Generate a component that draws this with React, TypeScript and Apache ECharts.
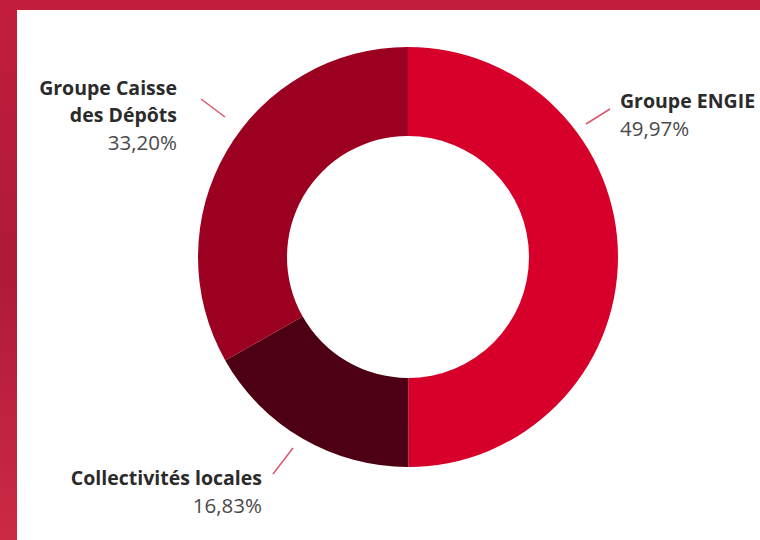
import React, { useEffect, useRef } from "react";
import * as echarts from "echarts";

const categories = ["Groupe ENGIE", "Collectivités locales", "Groupe Caisse\ndes Dépôts"];
const values = [49.97, 16.83, 33.2];
const valueLabels = ["49,97%", "16,83%", "33,20%"];
const colors = ["#d6002b", "#4d0013", "#9c0020"];

export default function App() {
  const ref = useRef<HTMLDivElement>(null);
  useEffect(() => {
    document.body.style.margin = "0";
    const chart = echarts.init(ref.current!, null, { renderer: "svg" });
    const labelPos = [
      { x: 620, y: 87, align: "left", line: [[586, 124], [610, 109]] },
      { x: 262, y: 464, align: "right", line: [[273, 474], [293, 448]] },
      { x: 177, y: 74, align: "right", line: [[201, 99], [225, 117]] },
    ];
    chart.setOption({
      animation: false,
      backgroundColor: {
        type: "linear", x: 0, y: 0, x2: 0, y2: 1,
        colorStops: [
          { offset: 0, color: "#c21e3b" },
          { offset: 0.5, color: "#ae1a3a" },
          { offset: 1, color: "#cc2a44" },
        ],
      },
      graphic: [
        { type: "rect", shape: { x: 17, y: 10, width: 760, height: 540 }, style: { fill: "#ffffff" }, z: -10 },
        ...labelPos.map((p) => ({
          type: "line",
          shape: { x1: p.line[0][0], y1: p.line[0][1], x2: p.line[1][0], y2: p.line[1][1] },
          style: { stroke: "#d9586e", lineWidth: 1.5 },
        })),
      ],
      series: [
        {
          type: "pie",
          center: [408, 257],
          radius: [121, 210],
          startAngle: 90,
          clockwise: true,
          avoidLabelOverlap: false,
          data: categories.map((name, i) => ({
            name,
            value: values[i],
            itemStyle: { color: colors[i] },
            label: { align: labelPos[i].align },
          })),
          label: {
            show: true,
            formatter: (p: any) =>
              p.name.split("\n").map((s: string) => `{n|${s}}`).join("\n") + `\n{v|${valueLabels[p.dataIndex]}}`,
            rich: {
              n: { fontFamily: "Open Sans", fontWeight: "bold", fontSize: 19.5, color: "#2b2b2b", lineHeight: 27 },
              v: { fontFamily: "Open Sans", fontSize: 20.5, color: "#4a4a4a", lineHeight: 27 },
            },
          },
          labelLine: { show: false },
          labelLayout: (params: any) => {
            const p = labelPos[params.dataIndex];
            return { x: p.x, y: p.y, align: p.align, verticalAlign: "top" };
          },
          emphasis: { disabled: true },
        },
      ],
    });
    return () => chart.dispose();
  }, []);
  return <div ref={ref} style={{ width: 760, height: 540 }} />;
}
